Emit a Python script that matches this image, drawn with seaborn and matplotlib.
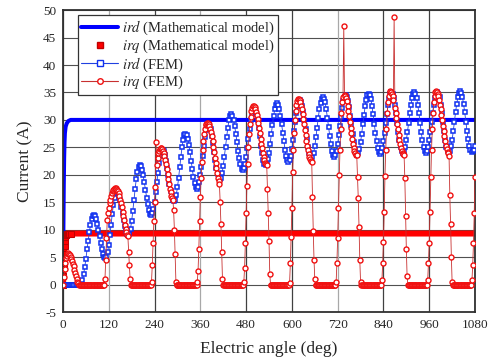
import matplotlib
matplotlib.use("Agg")
import matplotlib.pyplot as plt
from matplotlib.lines import Line2D
import seaborn as sns
import numpy as np

# electric angle (deg) of the FEM samples
fem_ird_angle = np.arange(0, 1081, 3)
fem_irq_angle = np.arange(0, 1081, 2)

# ird (FEM), one value every 3 deg
fem_ird = [
    0, 0, 0, 0, 0, 0, 0, 0, 0, 0, 0, 0, 0, 0, 0,
    0.0, 0.2, 0.9, 1.9, 3.2, 4.7, 6.4, 8.0, 9.5, 10.9, 11.9, 12.5, 12.7,
    12.5, 12.0, 11.1, 10.0, 8.8, 7.5, 6.4, 5.6, 5.0, 4.8,
    5.1, 6.0, 7.3, 9.0, 10.9, 12.8, 14.5, 15.8, 16.7, 17.0,
    16.8, 16.2, 15.4, 14.2, 13.0, 11.8, 10.7, 9.8, 9.2, 9.0,
    9.3, 10.2, 11.6, 13.4, 15.4, 17.4, 19.2, 20.6, 21.5, 21.8,
    21.6, 20.9, 19.9, 18.7, 17.3, 15.8, 14.6, 13.6, 12.9, 12.7,
    13.0, 13.8, 15.1, 16.8, 18.6, 20.4, 22.1, 23.4, 24.2, 24.5,
    24.3, 23.6, 22.6, 21.3, 19.9, 18.4, 17.1, 16.1, 15.4, 15.2,
    15.5, 16.4, 17.7, 19.4, 21.4, 23.3, 25.0, 26.3, 27.2, 27.5,
    27.3, 26.6, 25.4, 24.1, 22.5, 21.0, 19.6, 18.5, 17.7, 17.5,
    17.8, 18.6, 19.9, 21.5, 23.4, 25.2, 26.8, 28.1, 28.9, 29.2,
    29.0, 28.3, 27.1, 25.8, 24.2, 22.7, 21.3, 20.2, 19.4, 19.2,
    19.5, 20.3, 21.6, 23.3, 25.1, 26.9, 28.6, 29.9, 30.7, 31.0,
    30.8, 30.0, 28.9, 27.5, 26.0, 24.4, 23.0, 21.9, 21.1, 20.9,
    21.2, 22.0, 23.2, 24.8, 26.6, 28.3, 29.9, 31.1, 31.9, 32.2,
    32.0, 31.2, 30.0, 28.6, 27.0, 25.3, 23.9, 22.7, 22.0, 21.7,
    22.0, 22.8, 24.0, 25.6, 27.4, 29.1, 30.7, 31.9, 32.7, 33.0,
    32.7, 32.0, 30.8, 29.3, 27.7, 26.1, 24.6, 23.4, 22.7, 22.4,
    22.7, 23.5, 24.7, 26.3, 28.0, 29.7, 31.3, 32.5, 33.3, 33.6,
    33.3, 32.6, 31.4, 29.9, 28.3, 26.6, 25.1, 23.9, 23.2, 22.9,
    23.2, 24.0, 25.2, 26.8, 28.6, 30.3, 31.9, 33.1, 33.9, 34.2,
    33.9, 33.2, 32.0, 30.4, 28.8, 27.1, 25.6, 24.3, 23.6, 23.3,
    23.6, 24.4, 25.6, 27.2, 28.9, 30.6, 32.2, 33.4, 34.2, 34.5,
    34.2, 33.5, 32.3, 30.7, 29.1, 27.4, 25.9, 24.6, 23.9, 23.6,
    23.9, 24.7, 25.9, 27.5, 29.2, 30.9, 32.5, 33.7, 34.5, 34.8,
    34.5, 33.8, 32.5, 31.0, 29.3, 27.6, 26.1, 24.8, 24.1, 23.8,
    24.1, 24.9, 26.1, 27.7, 29.4, 31.1, 32.7, 33.9, 34.7, 35.0,
    34.7, 34.0, 32.7, 31.2, 29.5, 27.8, 26.3, 25.0, 24.3, 24.0,
    24.3, 25.0, 26.3, 27.8, 29.5, 31.2, 32.7, 34.0, 34.7, 35.0,
    34.7, 34.0, 32.7, 31.2, 29.5, 27.8, 26.3, 25.0, 24.3, 24.0,
    24.3, 25.1, 26.3, 27.8, 29.6, 31.3, 32.8, 34.0, 34.8, 35.1,
    34.8, 34.1, 32.8, 31.3, 29.6, 27.9, 26.4, 25.1, 24.4, 24.1,
    24.4, 25.2, 26.4, 27.9, 29.7, 31.4, 32.9, 34.1, 34.9, 35.2,
    34.9, 34.2, 32.9, 31.4, 29.7, 28.0, 26.5, 25.2, 24.5, 24.2,
    24.3, 24.6, 25.2,
]

# irq (FEM), one value every 2 deg
fem_irq = [
    0.0, 1.4, 2.9, 4.0, 4.8, 5.3, 5.6, 5.7, 5.6, 5.4, 5.1, 4.7, 4.3, 3.8, 3.3,
    2.7, 2.1, 1.5, 1.0, 0.5, 0.2, 0.0,
    0, 0, 0, 0, 0, 0, 0, 0, 0, 0, 0, 0, 0, 0, 0, 0, 0,
    0, 0, 0, 0, 0, 0, 0, 0, 0, 0, 0, 0, 0, 0, 0, 0,
    1.0, 4.5, 8.5, 11.7, 13.0, 14.0, 14.8, 15.5, 16.1, 16.6, 17.0, 17.3, 17.5,
    17.6, 17.6, 17.5, 17.3, 17.0, 16.6, 16.1, 15.5, 14.8, 14.1, 13.3, 12.5,
    11.7, 10.9, 10.2, 9.6, 9.1, 8.8, 6.0, 3.5, 1.0,
    0, 0, 0, 0, 0, 0, 0, 0, 0, 0, 0, 0, 0, 0, 0, 0, 0, 0, 0, 0, 0, 0, 0, 0, 0, 0, 0,
    0.5, 3.5, 7.5, 11.5, 15.0, 17.8, 25.9, 21.8, 23.0, 23.9, 24.4, 24.7, 24.8,
    24.8, 24.7, 24.4, 24.0, 23.4, 22.7, 21.9, 21.0, 20.1, 19.2, 18.3, 17.5,
    16.8, 16.2, 15.8, 15.5, 13.5, 10.0, 5.5, 0.5,
    0, 0, 0, 0, 0, 0, 0, 0, 0, 0, 0, 0, 0, 0, 0, 0, 0, 0, 0, 0, 0, 0, 0, 0, 0, 0, 0,
    0.5, 2.5, 6.5, 11.5, 16.0, 19.5, 22.3, 24.5, 26.2, 27.5, 28.4, 29.0, 29.3,
    29.4, 29.4, 29.2, 28.9, 28.4, 27.8, 27.0, 26.1, 25.1, 24.1, 23.1, 22.1,
    21.2, 20.3, 19.5, 18.9, 18.4, 15.0, 11.0, 6.0, 1.0,
    0, 0, 0, 0, 0, 0, 0, 0, 0, 0, 0, 0, 0, 0, 0, 0, 0, 0, 0, 0, 0, 0, 0, 0, 0, 0, 0,
    0.5, 3.0, 7.5, 13.0, 18.0, 22.0, 25.0, 27.4, 29.2, 30.6, 31.6, 32.2, 32.5,
    32.5, 32.3, 32.0, 31.5, 30.9, 30.2, 29.4, 28.5, 27.6, 26.6, 25.7, 24.8,
    24.0, 23.3, 22.7, 22.2, 21.9, 21.8, 17.5, 13.0, 8.0, 2.0,
    0, 0, 0, 0, 0, 0, 0, 0, 0, 0, 0, 0, 0, 0, 0, 0, 0, 0, 0, 0, 0, 0, 0, 0, 0,
    0.3, 3.9, 8.7, 13.9, 20.5, 24.5, 27.6, 29.9, 31.6, 32.8, 33.5, 33.8, 33.8,
    33.6, 33.2, 32.6, 31.9, 31.1, 30.2, 29.2, 28.2, 27.2, 26.2, 25.3, 24.5,
    23.8, 23.2, 22.8, 22.5, 22.4, 16.0, 9.8, 4.5, 1.0,
    0, 0, 0, 0, 0, 0, 0, 0, 0, 0, 0, 0, 0, 0, 0, 0, 0, 0, 0, 0, 0, 0, 0, 0, 0, 0, 0,
    0.5, 4.0, 8.5, 14.0, 20.0, 24.5, 28.3, 31.2, 33.2, 34.2, 47.1, 34.6, 34.4,
    34.0, 33.4, 32.6, 31.7, 30.7, 29.7, 28.6, 27.6, 26.6, 25.7, 24.9, 24.3,
    23.9, 23.7, 23.6, 19.6, 15.7, 10.5, 4.5, 0.5,
    0, 0, 0, 0, 0, 0, 0, 0, 0, 0, 0, 0, 0, 0, 0, 0, 0, 0, 0, 0, 0, 0, 0, 0, 0, 0, 0,
    0.8, 3.9, 7.8, 13.3, 19.8, 24.5, 28.3, 31.2, 33.2, 34.4, 35.0, 35.2, 35.1,
    34.8, 34.3, 33.7, 48.8, 32.2, 31.3, 30.3, 29.3, 28.3, 27.3, 26.4, 25.6,
    24.9, 24.4, 24.0, 23.8, 23.7, 19.5, 12.5, 6.5, 1.5,
    0, 0, 0, 0, 0, 0, 0, 0, 0, 0, 0, 0, 0, 0, 0, 0, 0, 0, 0, 0, 0, 0, 0, 0, 0, 0,
    0.8, 3.9, 7.6, 13.3, 19.6, 24.5, 28.3, 31.2, 33.2, 34.4, 35.0, 35.2, 35.1,
    34.8, 34.3, 33.6, 32.8, 31.9, 30.9, 29.9, 28.9, 27.9, 27.0, 26.1, 25.3,
    24.7, 24.2, 23.9, 23.4, 16.3, 11.1, 5.1, 0.5,
    0, 0, 0, 0, 0, 0, 0, 0, 0, 0, 0, 0, 0, 0, 0, 0, 0, 0, 0, 0, 0, 0, 0, 0, 0,
    0.8, 3.6, 7.5, 13.0, 19.6,
]

# mathematical model
math_ird_angle = [0, 1, 2, 3, 4, 5, 7, 10, 14, 20, 1080]
math_ird = [0.0, 10.0, 18.0, 23.0, 26.0, 27.6, 28.8, 29.4, 29.8, 30.0, 30.0]
math_irq_angle = [0, 1, 2, 3, 4, 5, 6, 8, 10, 12, 15, 20, 1080]
math_irq = [0.0, 1.5, 3.5, 5.5, 7.0, 8.0, 8.6, 9.0, 9.2, 9.3, 9.3, 9.3, 9.3]

x_ticks = [0, 120, 240, 360, 480, 600, 720, 840, 960, 1080]
y_ticks = [-5, 0, 5, 10, 15, 20, 25, 30, 35, 40, 45, 50]

assert len(fem_ird) == len(fem_ird_angle), len(fem_ird)
assert len(fem_irq) == len(fem_irq_angle), len(fem_irq)

sns.set_style("white")
plt.rcParams["font.family"] = ["Liberation Serif", "DejaVu Serif"]
plt.rcParams["mathtext.fontset"] = "stix"
plt.rcParams["axes.unicode_minus"] = False

fig, ax = plt.subplots(figsize=(5.0, 3.62), dpi=100)
fig.subplots_adjust(left=0.126, right=0.95, top=0.972, bottom=0.138)

# grid
for y in y_ticks:
    ax.axhline(y, color="#505050", lw=0.8, zorder=1)
for x in x_ticks:
    c = "#a8a8a8" if x in (120, 360, 720) else "#404040"
    ax.axvline(x, color=c, lw=0.9, zorder=1)

blue = "#0000ff"
red = "#ff0000"

sns.lineplot(x=math_ird_angle, y=math_ird, ax=ax, color=blue, linewidth=2.9,
             estimator=None, sort=False, legend=False, zorder=2)
sns.lineplot(x=math_irq_angle, y=math_irq, ax=ax, color=red, linewidth=4.3,
             marker="s", markersize=4, markeredgecolor="#c00000",
             markevery=slice(0, -1), estimator=None, sort=False,
             legend=False, zorder=2)

sns.lineplot(x=fem_ird_angle, y=fem_ird, ax=ax, color="#2040e0", linewidth=0.6,
             marker="s", markersize=3.4, markerfacecolor="white",
             markeredgecolor="#1030f0", markeredgewidth=1.1,
             estimator=None, sort=False, legend=False, zorder=3)
sns.lineplot(x=fem_irq_angle, y=fem_irq, ax=ax, color="#c83030", linewidth=0.6,
             marker="o", markersize=3.6, markerfacecolor="white",
             markeredgecolor="#f01010", markeredgewidth=1.0,
             estimator=None, sort=False, legend=False, zorder=4)

ax.set_xlim(0, 1080)
ax.set_ylim(-5, 50)
ax.set_xticks(x_ticks)
ax.set_xticklabels([str(t) for t in x_ticks])
ax.set_yticks(y_ticks)
ax.set_yticklabels([str(t) for t in y_ticks])
ax.tick_params(length=0, labelsize=9.5, pad=5)
ax.set_xlabel("Electric angle (deg)", fontsize=12.5, labelpad=7)
ax.set_ylabel("Current (A)", fontsize=12.5, labelpad=7)
for s in ax.spines.values():
    s.set_color("#303030")
    s.set_linewidth(1.3)

handles = [
    Line2D([], [], color=blue, lw=2.9),
    Line2D([], [], color=red, marker="s", linestyle="none", markersize=4.5,
           markeredgecolor="#c00000"),
    Line2D([], [], color="#2040e0", lw=0.8, marker="s", markersize=4,
           markerfacecolor="white", markeredgecolor="#1030f0", markeredgewidth=1),
    Line2D([], [], color="#c83030", lw=0.8, marker="o", markersize=4,
           markerfacecolor="white", markeredgecolor="#f01010", markeredgewidth=1),
]
labels = [
    r"$\mathit{ird}$ (Mathematical model)",
    r"$\mathit{irq}$ (Mathematical model)",
    r"$\mathit{ird}$ (FEM)",
    r"$\mathit{irq}$ (FEM)",
]
leg = ax.legend(handles, labels, loc="upper left", bbox_to_anchor=(0.036, 0.983),
                borderaxespad=0, fontsize=10.5, frameon=True, fancybox=False,
                edgecolor="#333333", framealpha=1, handlelength=2.5,
                handletextpad=0.3, labelspacing=0.02, borderpad=0.25)
leg.get_frame().set_linewidth(0.9)

fig.savefig("out.png", dpi=100)
plt.close(fig)
